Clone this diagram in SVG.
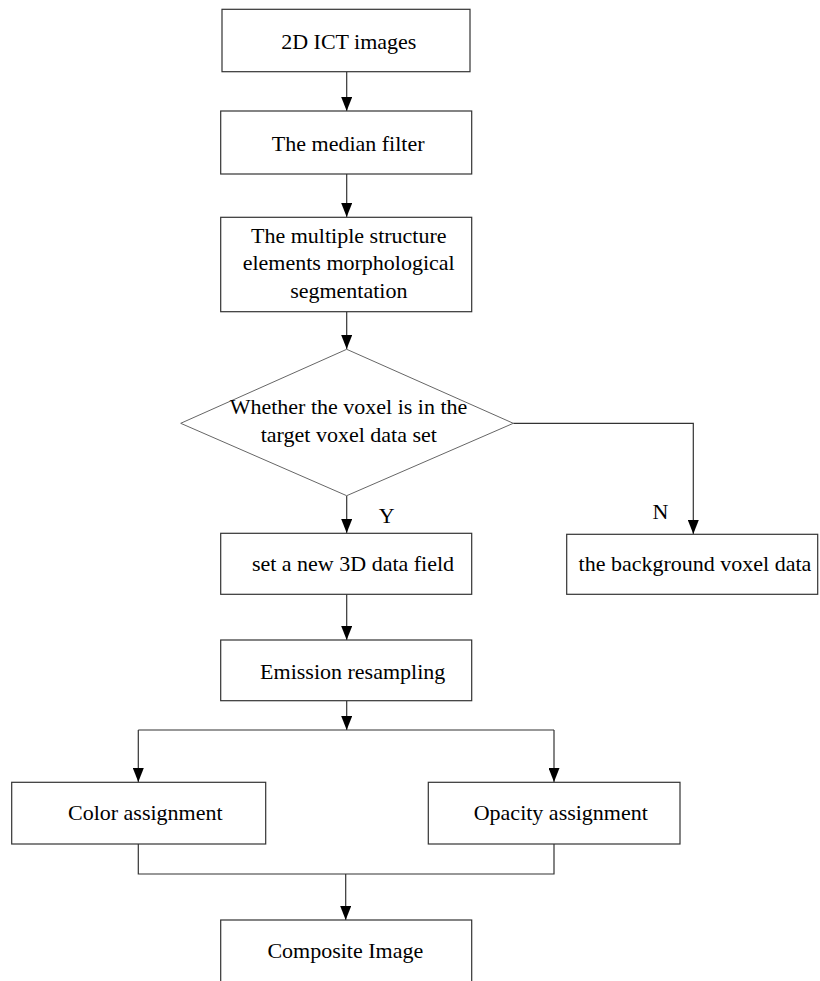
<svg xmlns="http://www.w3.org/2000/svg" width="820" height="981" viewBox="0 0 820 981">
<style>
.box{fill:#fff;stroke:#333;stroke-width:1.2}
.dia{fill:#fff;stroke:#666;stroke-width:1}
.t{font-family:"Liberation Serif","Times New Roman",serif;font-size:22px;fill:#000;text-anchor:middle}
.c{fill:none;stroke:#333;stroke-width:1.2}
</style>
<defs>
<marker id="ah" markerUnits="userSpaceOnUse" viewBox="0 0 14 11" markerWidth="14" markerHeight="11" refX="14" refY="5.5" orient="auto">
<path d="M0,0 L14,5.5 L0,11 z" fill="#000"/>
</marker>
</defs>
<rect width="820" height="981" fill="#fff"/>
<g id="connectors">
<line class="c" x1="346.7" y1="72" x2="346.7" y2="111" marker-end="url(#ah)"/>
<line class="c" x1="346.7" y1="174" x2="346.7" y2="217" marker-end="url(#ah)"/>
<line class="c" x1="346.7" y1="312" x2="346.7" y2="349" marker-end="url(#ah)"/>
<line class="c" x1="346.7" y1="496" x2="346.7" y2="533" marker-end="url(#ah)"/>
<polyline class="c" points="513.3,423.3 693.3,423.3 693.3,534" marker-end="url(#ah)"/>
<line class="c" x1="346.7" y1="594" x2="346.7" y2="640" marker-end="url(#ah)"/>
<line class="c" x1="346.7" y1="701" x2="346.7" y2="730" marker-end="url(#ah)"/>
<line class="c" x1="138.3" y1="730" x2="554" y2="730"/>
<line class="c" x1="138.3" y1="730" x2="138.3" y2="782" marker-end="url(#ah)"/>
<line class="c" x1="554" y1="730" x2="554" y2="782" marker-end="url(#ah)"/>
<polyline class="c" points="138.3,844 138.3,874 554,874 554,844"/>
<line class="c" x1="345.7" y1="874" x2="345.7" y2="920" marker-end="url(#ah)"/>
<text class="t" x="386.7" y="522.7">Y</text>
<text class="t" x="660.5" y="519">N</text>
</g>
<g id="n1"><rect class="box" x="222" y="9.3" width="248" height="62.4"/><text class="t" x="348.8" y="49.3">2D ICT images</text></g>
<g id="n2"><rect class="box" x="220.7" y="111" width="251" height="63"/><text class="t" x="348.2" y="151">The median filter</text></g>
<g id="n3"><rect class="box" x="220.7" y="217.3" width="251" height="94.4"/>
<text class="t" x="348.8" y="242.7">The multiple structure</text>
<text class="t" x="348.7" y="270.3">elements morphological</text>
<text class="t" x="348.8" y="298">segmentation</text></g>
<g id="n4"><polygon class="dia" points="346.7,349.3 513.3,423.3 346.7,495.7 180.7,423.3"/>
<text class="t" x="348.5" y="414">Whether the voxel is in the</text>
<text class="t" x="348.8" y="441.7">target voxel data set</text></g>
<g id="n5"><rect class="box" x="220.7" y="533.3" width="251" height="61"/><text class="t" x="353" y="570.7">set a new 3D data field</text></g>
<g id="n6"><rect class="box" x="566.7" y="534.3" width="251" height="60"/><text class="t" x="695" y="570.7">the background voxel data</text></g>
<g id="n7"><rect class="box" x="220.7" y="640" width="251" height="60.7"/><text class="t" x="352.7" y="679.3">Emission resampling</text></g>
<g id="n8"><rect class="box" x="11.7" y="782.3" width="254" height="61.7"/><text class="t" x="145.3" y="820">Color assignment</text></g>
<g id="n9"><rect class="box" x="428.3" y="782.3" width="251.7" height="61.7"/><text class="t" x="560.8" y="820">Opacity assignment</text></g>
<g id="n10"><rect class="box" x="220.7" y="920" width="251" height="80"/><text class="t" x="345.3" y="958.3">Composite Image</text></g>
</svg>
